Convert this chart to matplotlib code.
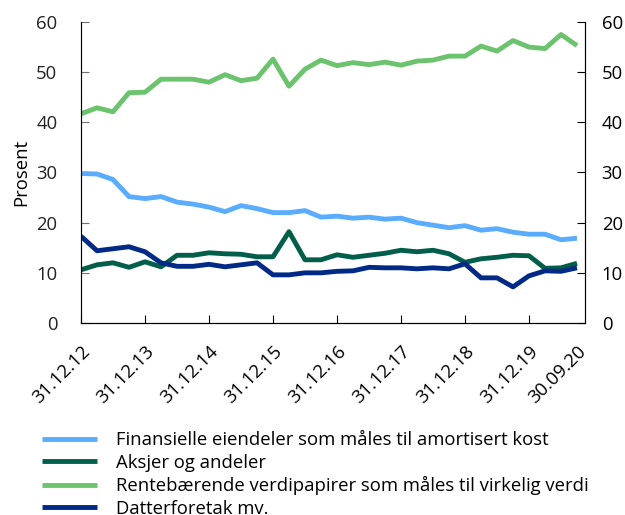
import matplotlib.pyplot as plt

plt.rcParams['font.family'] = ['Open Sans', 'DejaVu Sans']
plt.rcParams['font.size'] = 13.3

# quarterly from 31.12.12 to 30.09.20
tick_labels = ["31.12.12", "31.12.13", "31.12.14", "31.12.15", "31.12.16",
               "31.12.17", "31.12.18", "31.12.19", "30.09.20"]
tick_index = [0, 4, 8, 12, 16, 20, 24, 28, 31]

finansielle = [29.8, 29.7, 28.6, 25.2, 24.8, 25.2, 24.1, 23.7, 23.1, 22.2, 23.4, 22.8,
               22.0, 22.0, 22.4, 21.1, 21.3, 20.9, 21.1, 20.7, 20.9, 20.0, 19.5, 19.0,
               19.4, 18.5, 18.8, 18.1, 17.7, 17.7, 16.6, 16.9]
aksjer = [10.6, 11.6, 12.0, 11.1, 12.2, 11.2, 13.5, 13.5, 14.0, 13.8, 13.7, 13.2,
          13.2, 18.2, 12.6, 12.6, 13.6, 13.1, 13.5, 13.9, 14.5, 14.2, 14.5, 13.8,
          12.1, 12.8, 13.1, 13.5, 13.4, 10.9, 11.0, 11.9]
rentebaerende = [41.7, 42.9, 42.1, 45.9, 46.0, 48.6, 48.6, 48.6, 48.0, 49.5, 48.3, 48.8,
                 52.6, 47.2, 50.6, 52.4, 51.3, 51.9, 51.5, 52.0, 51.4, 52.2, 52.4, 53.2,
                 53.2, 55.2, 54.2, 56.3, 55.0, 54.7, 57.5, 55.3]
datterforetak = [17.3, 14.4, 14.8, 15.2, 14.2, 12.0, 11.3, 11.3, 11.7, 11.2, 11.6, 12.0,
                 9.6, 9.6, 10.0, 10.0, 10.3, 10.4, 11.1, 11.0, 11.0, 10.8, 11.0, 10.8,
                 11.8, 9.0, 9.0, 7.2, 9.4, 10.4, 10.3, 11.0]

names = ["Finansielle eiendeler som måles til amortisert kost",
         "Aksjer og andeler",
         "Rentebærende verdipapirer som måles til virkelig verdi",
         "Datterforetak mv."]
colors = ["#5AACFF", "#005E4A", "#6CC36E", "#002A86"]

fig = plt.figure(figsize=(6.25, 5.15), dpi=100)
ax = fig.add_axes([0.1296, 0.3728, 0.8064, 0.5845])

x = list(range(len(finansielle)))
for series, name, col in zip([finansielle, aksjer, rentebaerende, datterforetak], names, colors):
    ax.plot(x, series, color=col, lw=3.5, label=name, solid_capstyle='butt')

ax.set_xlim(0, 31.5)
ax.set_ylim(0, 60)
ax.set_yticks(range(0, 61, 10))
ax.set_xticks(tick_index)
ax.set_xticklabels(tick_labels, rotation=45, ha='right', rotation_mode='anchor')
ax.tick_params(axis='x', direction='in', length=6, pad=14)
ax.tick_params(axis='y', direction='in', length=6, pad=17, colors='#222222')
ax.xaxis.get_major_ticks()[-1].tick1line.set_visible(False)
ax.set_ylabel("Prosent", labelpad=4)

ax2 = ax.twinx()
ax2.set_ylim(0, 60)
ax2.set_yticks(range(0, 61, 10))
ax2.tick_params(axis='y', direction='in', length=6, pad=12)

for a in (ax, ax2):
    a.spines['top'].set_visible(False)
ax.spines['left'].set_color('#707070')
ax.tick_params(axis='y', color='#707070')

fig.legend(*ax.get_legend_handles_labels(), loc='upper left', bbox_to_anchor=(0.067, 0.163),
           frameon=False, handlelength=2.97, handletextpad=1.03, labelspacing=0.25,
           borderpad=0, borderaxespad=0)

fig.savefig("out.png", dpi=100)
